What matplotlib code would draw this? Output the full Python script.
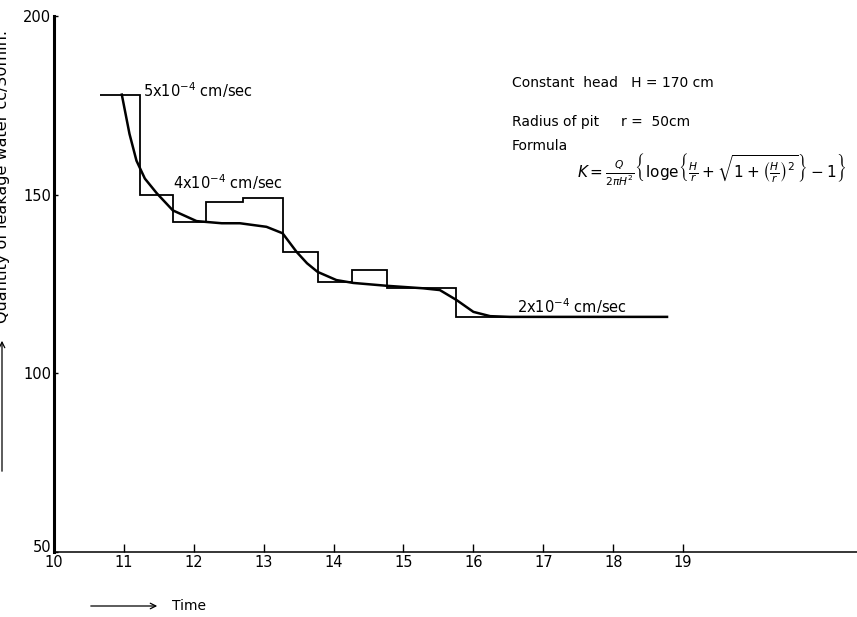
import matplotlib.pyplot as plt
from matplotlib.transforms import ScaledTranslation

# step record of the pit test (edges in time, levels in cc/30min)
step_edges = [10.66, 11.23, 11.70, 12.18, 12.71, 13.27, 13.77, 14.27, 14.76, 15.75, 18.77]
step_levels = [178, 150, 142.4, 148, 149, 134, 125.6, 129, 123.8, 115.8]

# smoothed curve drawn through the steps
curve_t = [10.97, 11.08, 11.18, 11.30, 11.47, 11.70, 12.04, 12.40, 12.66, 13.04, 13.27,
           13.47, 13.62, 13.77, 14.04, 14.28, 14.76, 15.28, 15.52, 15.76, 16.00, 16.24,
           16.52, 18.77]
curve_q = [178, 167, 159.5, 154.5, 150.4, 145.6, 142.6, 142.0, 142.0, 141.0, 139.2,
           134.0, 130.8, 128.4, 126.1, 125.3, 124.5, 123.8, 123.3, 120.5, 117.2, 116.0,
           115.8, 115.8]

rate_labels = ["5x10$^{-4}$ cm/sec", "4x10$^{-4}$ cm/sec", "2x10$^{-4}$ cm/sec"]
rate_pos = [(11.27, 179.3), (11.70, 153.6), (16.62, 118.8)]

xticks = list(range(10, 20))
yticks = [50, 100, 150, 200]

plt.rcParams["font.family"] = ["DejaVu Sans"]
plt.rcParams["mathtext.fontset"] = "dejavusans"

fig = plt.figure(figsize=(8.57, 6.17), dpi=100)
ax = fig.add_axes([54 / 857, 65 / 617, 803 / 857, 536 / 617])

ax.stairs(step_levels, step_edges, baseline=None, color="black", lw=1.3)
ax.plot(curve_t, curve_q, color="black", lw=1.8)

for lab, (x, y) in zip(rate_labels, rate_pos):
    ax.text(x, y, lab, fontsize=10.5, ha="left", va="center")

ax.text(16.55, 181.2, "Constant  head   H = 170 cm", fontsize=10, va="center")
ax.text(16.55, 170.4, "Radius of pit     r =  50cm", fontsize=10, va="center")
ax.text(16.55, 163.6, "Formula", fontsize=10, va="center")
ax.text(17.48, 156.9,
        r"$K=\frac{Q}{2\pi H^2}\left\{\mathrm{loge}\left\{\frac{H}{r}+"
        r"\sqrt{1+\left(\frac{H}{r}\right)^2}\right\}-1\right\}$",
        fontsize=11, va="center")

ax.set_xlim(10, 10 + 803 / 69.9)
ax.set_ylim(50, 200)
ax.set_xticks(xticks)
ax.set_yticks(yticks)
ax.tick_params(axis="x", direction="in", length=6, width=1, labelsize=10.5, pad=2)
ax.tick_params(axis="y", direction="in", length=3, width=1, labelsize=10.5, pad=2)

# lift the "50" a little so it clears the "10" under the corner
lab50 = ax.get_yticklabels()[0]
lab50.set_transform(lab50.get_transform() + ScaledTranslation(0, 4 / 72, fig.dpi_scale_trans))

for side in ["top", "right"]:
    ax.spines[side].set_visible(False)
ax.spines["left"].set_linewidth(2.2)
ax.spines["bottom"].set_linewidth(1.1)

# axis captions with the hand-drawn arrows
fig.text(3 / 857, 1 - 177 / 617, "Quantity of leakage water cc/30min.",
         rotation=90, fontsize=11.5, ha="center", va="center")
ax.annotate("", xy=(2 / 857, 1 - 338 / 617), xytext=(2 / 857, 1 - 474 / 617),
            xycoords="figure fraction", textcoords="figure fraction",
            arrowprops=dict(arrowstyle="->", lw=0.9, color="black"))
ax.annotate("", xy=(160 / 857, 1 - 606 / 617), xytext=(88 / 857, 1 - 606 / 617),
            xycoords="figure fraction", textcoords="figure fraction",
            arrowprops=dict(arrowstyle="->", lw=0.9, color="black"))
fig.text(172 / 857, 1 - 606 / 617, "Time", fontsize=10, ha="left", va="center")

fig.savefig("out.png", dpi=100)
